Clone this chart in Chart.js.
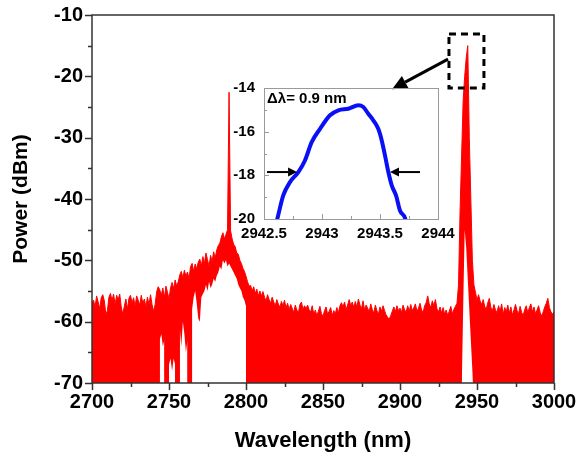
<!DOCTYPE html>
<html><head><meta charset="utf-8">
<script src="https://cdn.jsdelivr.net/npm/chart.js@4.4.0/dist/chart.umd.min.js"></script>
<style>
html,body{margin:0;padding:0;background:#fff;}
#wrap{position:relative;width:581px;height:457px;overflow:hidden;}
#main{position:absolute;left:0;top:0;}
#inset{position:absolute;left:200px;top:70px;}
</style></head><body>
<div id="wrap"><canvas id="main" width="581" height="457"></canvas><canvas id="inset" width="260" height="180"></canvas></div>
<script>
// ---------- main spectrum data ----------
const wavelengthStart = 2700, wavelengthEnd = 3000; // nm, 1 nm sampling
const spectrumPower = [
-57,-56.5,-57.6,-55.8,-56.8,-57.9,-56.1,-55.6,-56.6,-58.8,
-58.2,-56,-55.4,-56.6,-55.5,-57.2,-55.7,-56.4,-55.5,-57.6,
-58.8,-57.5,-56.3,-58,-56.2,-55.7,-56.9,-56.1,-57.5,-55.8,
-56.5,-57.3,-55.7,-57,-56.3,-57.6,-56,-57.2,-55.6,-57.2,
-58.3,-57.2,-55.1,-54.3,-54.8,-55.7,-54.5,-56.1,-54.2,-55.2,
-56.3,-54.5,-53.6,-54.6,-53.2,-54.2,-53.5,-52.4,-51.8,-52.9,
-51.6,-52.6,-51.9,-53,-51,-50.5,-51.8,-50.6,-51.4,-50.3,
-49.8,-50.9,-49.4,-50.5,-48.8,-49.9,-51,-49.2,-50.2,-48.6,
-49.6,-48.3,-47.6,-47.2,-46.2,-45.5,-46.5,-45.8,-45,-22.6,
-45.2,-46.5,-47.4,-47.8,-48.8,-49,-50,-50.5,-51.3,-51.8,
-52.6,-53.5,-54.2,-54.1,-55,-54.3,-55.4,-54.7,-55.8,-55,
-55.8,-55.1,-56,-56.6,-55.6,-56.4,-57,-56,-56.8,-57.4,
-56.4,-57.1,-57.7,-56.7,-57.4,-56.5,-57.8,-57,-58,-57.2,
-57.8,-58.5,-57.3,-58.1,-58.6,-57.2,-56.8,-58,-57.4,-57.9,
-57.3,-58.1,-58.4,-57.4,-58.8,-58.1,-59,-58.3,-57.5,-58.7,
-59.1,-58.2,-57.6,-58.8,-58.3,-57.7,-59,-58.2,-58.7,-57.7,
-58.6,-57.4,-56.9,-57.6,-56.8,-58,-57.3,-56.4,-57.4,-56.8,
-57.7,-56.7,-57.6,-56.3,-57.3,-57.9,-56.6,-58.1,-57.3,-57.8,
-58.4,-57.1,-58,-58.6,-57.3,-58.2,-58.8,-57.6,-58.3,-57.4,
-58.2,-58.9,-59.3,-59.6,-59,-58.3,-57.6,-58.4,-57.4,-58.2,
-57.8,-58.5,-57.3,-58.1,-58.4,-57.4,-58.3,-57.2,-58.2,-57.7,
-57.1,-58.3,-57.8,-57,-58.1,-58.5,-57.4,-56.9,-55.8,-57.1,
-57.7,-56.6,-57.4,-56.4,-57.9,-58.4,-57.6,-58.6,-57.7,-58.8,
-58.1,-59,-58.3,-57.5,-58.7,-58,-57.5,-57,-54,-42,
-33,-24,-20,-17,-15,-30,-40,-50,-54,-55.2,
-56.5,-55.6,-56.6,-57.2,-56.4,-57.5,-58,-56.9,-56.2,-57.7,
-58.2,-57.2,-58.1,-58.5,-57.4,-58.3,-57.1,-58.8,-57.7,-58.4,
-57.3,-58.6,-57.6,-58.9,-58.1,-57.2,-58.2,-58.7,-57.5,-58.5,
-59,-58,-57.4,-58.6,-57.7,-57.1,-58.4,-57.6,-58.7,-58.1,
-57.4,-58.5,-59.1,-58.4,-57.6,-57,-56.2,-57.7,-58.4,-58.8,
-58.4];
// lower edge of the trace where it does not reach the floor (white gaps); null = break
const gapWavelength = [2744,2745,2746,2747, 2748, 2750,2751,2752,2753,2754, 2756,
  2757,2758,2759,2760,2761,2762, 2763,
  2765,2766,2767,2768,2769,2770,2771,2772,2773,2774,2775,2776,2777,2778,2779,2780,2781,2782,
  2783,2784,2785,2786,2787,2788,2789,2790,2791,2792,2793,2794,2795,2796,2797,2798,2799,2800, 2801,
  2940,2941,2942,2943,2944,2945,2946,2947,2948];
const gapPower = [-63,-62,-64,-63, null, -67,-66,-68,-66,-67, null,
  -61,-64,-60,-62,-65,-63, null,
  -58,-56,-55,-57,-59.5,-60,-56,-55.5,-55,-54,-55,-53.5,-54.5,-54,-53,-53.5,-52.5,-52,
  -51,-51.5,-50,-50.5,-50,-51,-50.5,-51,-51.5,-52,-52.5,-53,-54,-54.5,-55,-56,-56.5,-57.5, null,
  -72,-58,-45,-48,-53,-58,-63,-68,-74];
const xTicks = [2700,2750,2800,2850,2900,2950,3000];
const yTicks = [-70,-60,-50,-40,-30,-20,-10];

// ---------- inset data ----------
const insetWavelength = [2942.6,2942.615,2942.666,2942.724,2942.796,2942.853,2942.911,2942.983,2943.069,2943.141,2943.227,2943.313,2943.356,2943.399,2943.442,2943.485,2943.515,2943.543,2943.572,2943.601,2943.638,2943.672,2943.716,2943.73];
const insetPower = [-20.3,-19.99,-18.92,-18.31,-17.85,-17.32,-16.48,-15.87,-15.25,-15.02,-14.95,-14.79,-14.87,-15.18,-15.48,-15.87,-16.40,-17.09,-17.85,-18.46,-18.92,-19.61,-19.96,-20.3];
const insetXTicks = [2942.5, 2943, 2943.5, 2944];
const insetYTicks = [-20, -18, -16, -14];
const fwhmLabel = 'Δλ= 0.9 nm';

const redData = spectrumPower.map((p,i)=>({x: wavelengthStart + i, y: p}));
const gapData = gapWavelength.map((w,i)=>({x: w, y: gapPower[i]}));
const blueData = insetWavelength.map((w,i)=>({x: w, y: insetPower[i]}));

const FONT = "'Liberation Sans', Arial, sans-serif";

function arrow(ctx, x1, y1, x2, y2, lw, hl, hw){
  const ang = Math.atan2(y2-y1, x2-x1);
  const bx = x2 - hl*Math.cos(ang), by = y2 - hl*Math.sin(ang);
  ctx.lineWidth = lw; ctx.beginPath(); ctx.moveTo(x1,y1); ctx.lineTo(bx,by); ctx.stroke();
  ctx.beginPath(); ctx.moveTo(x2,y2);
  ctx.lineTo(bx + hw*Math.sin(ang), by - hw*Math.cos(ang));
  ctx.lineTo(bx - hw*Math.sin(ang), by + hw*Math.cos(ang));
  ctx.closePath(); ctx.fill();
}
// scales must not reserve extra room for overhanging labels: the layout padding decides the plot box
function noOverhang(s){ s.paddingTop = 0; s.paddingBottom = 0; s.paddingLeft = 0; s.paddingRight = 0; }

const mainDecor = {
  id: 'mainDecor',
  afterDraw(chart){
    const {ctx, chartArea:a, scales:{x, y}} = chart;
    ctx.save();
    ctx.strokeStyle = '#333'; ctx.lineWidth = 1.5;
    ctx.strokeRect(a.left, a.top, a.right-a.left, a.bottom-a.top);
    ctx.beginPath();
    for (let v = 2700; v <= 3000; v += 25){
      const px = Math.round(x.getPixelForValue(v)) + 0.5, len = v % 50 === 0 ? 7 : 4;
      ctx.moveTo(px, a.bottom); ctx.lineTo(px, a.bottom + len);
    }
    for (let v = -70; v <= -10; v += 5){
      const py = Math.round(y.getPixelForValue(v)) + 0.5, len = v % 10 === 0 ? 7 : 4;
      ctx.moveTo(a.left, py); ctx.lineTo(a.left - len, py);
    }
    ctx.stroke();
    // dashed box around the peak
    ctx.strokeStyle = '#000'; ctx.lineWidth = 3; ctx.setLineDash([7,5]);
    const bx1 = x.getPixelForValue(2931.8), bx2 = x.getPixelForValue(2954.5);
    const by1 = y.getPixelForValue(-13.1), by2 = y.getPixelForValue(-21.9);
    ctx.strokeRect(bx1, by1, bx2-bx1, by2-by1);
    ctx.setLineDash([]);
    ctx.fillStyle = '#000';
    arrow(ctx, x.getPixelForValue(2931.2), y.getPixelForValue(-17.2), x.getPixelForValue(2894.8), y.getPixelForValue(-22.1), 3, 15, 7);
    ctx.restore();
  }
};

new Chart(document.getElementById('main'), {
  type: 'line',
  data: { datasets: [
    { data: gapData, borderWidth: 0, borderColor: 'rgba(0,0,0,0)', backgroundColor: '#ffffff', fill: 'start', pointRadius: 0, order: 1, spanGaps: false },
    { data: redData, borderColor: '#ff0000', borderWidth: 1, backgroundColor: '#ff0000', fill: 'start', pointRadius: 0, order: 2 }
  ]},
  options: {
    responsive: false, animation: false, devicePixelRatio: 1,
    layout: { padding: { left: 0, top: 15, right: 27, bottom: 0 } },
    plugins: { legend: { display: false }, tooltip: { enabled: false } },
    scales: {
      x: { type: 'linear', min: 2700, max: 3000,
        afterBuildTicks(s){ s.ticks = xTicks.map(v => ({value: v})); },
        ticks: { font: { family: FONT, size: 20, weight: 'bold' }, color: '#000', padding: 7, maxRotation: 0, autoSkip: false, callback: v => String(v) },
        grid: { display: false, drawTicks: false }, border: { display: false },
        title: { display: true, text: 'Wavelength (nm)', color: '#000', font: { family: FONT, size: 22, weight: 'bold' }, padding: { top: 0, bottom: 3 } },
        afterFit(s){ s.height = 74; noOverhang(s); } },
      y: { min: -70, max: -10,
        afterBuildTicks(s){ s.ticks = yTicks.map(v => ({value: v})); },
        ticks: { font: { family: FONT, size: 20, weight: 'bold' }, color: '#000', padding: 9, callback: v => String(v) },
        grid: { display: false, drawTicks: false }, border: { display: false },
        title: { display: true, text: 'Power (dBm)', color: '#000', font: { family: FONT, size: 21, weight: 'bold' }, padding: { top: 9, bottom: 0 } },
        afterFit(s){ s.width = 92; noOverhang(s); } }
    }
  },
  plugins: [mainDecor]
});

// ---------- inset ----------
const insetDecor = {
  id: 'insetDecor',
  afterDraw(chart){
    const {ctx, chartArea:a, scales:{x, y}} = chart;
    ctx.save();
    ctx.strokeStyle = '#9a9a9a'; ctx.lineWidth = 1;
    ctx.strokeRect(Math.round(a.left)+0.5, Math.round(a.top)+0.5, Math.round(a.right-a.left), Math.round(a.bottom-a.top));
    ctx.beginPath();
    for (let v = 2942.5; v <= 2944.001; v += 0.25){
      const px = Math.round(x.getPixelForValue(v)) + 0.5, len = Math.abs(v*2 - Math.round(v*2)) < 1e-6 ? 5 : 3;
      ctx.moveTo(px, a.bottom); ctx.lineTo(px, a.bottom - len);
    }
    for (let v = -20; v <= -14; v += 1){
      const py = Math.round(y.getPixelForValue(v)) + 0.5, len = v % 2 === 0 ? 5 : 3;
      ctx.moveTo(a.left, py); ctx.lineTo(a.left + len, py);
    }
    ctx.stroke();
    ctx.fillStyle = '#000'; ctx.strokeStyle = '#000';
    const ay = y.getPixelForValue(-17.85);
    arrow(ctx, x.getPixelForValue(2942.526), ay, x.getPixelForValue(2942.785), ay, 2, 9, 4.5);
    arrow(ctx, x.getPixelForValue(2943.845), ay, x.getPixelForValue(2943.586), ay, 2, 9, 4.5);
    ctx.font = "bold 15px " + FONT; ctx.textBaseline = 'middle'; ctx.textAlign = 'left';
    ctx.fillText(fwhmLabel, x.getPixelForValue(2942.526), y.getPixelForValue(-14.52));
    ctx.restore();
  }
};
new Chart(document.getElementById('inset'), {
  type: 'line',
  data: { datasets: [
    { data: blueData, borderColor: '#0a10f5', borderWidth: 4, pointRadius: 0, cubicInterpolationMode: 'monotone', fill: false, clip: 0 }
  ]},
  options: {
    responsive: false, animation: false, devicePixelRatio: 1,
    layout: { padding: { left: 0, top: 18, right: 22, bottom: 0 } },
    plugins: { legend: { display: false }, tooltip: { enabled: false } },
    scales: {
      x: { type: 'linear', min: 2942.5, max: 2944,
        afterBuildTicks(s){ s.ticks = insetXTicks.map(v => ({value: v})); },
        ticks: { font: { family: FONT, size: 15, weight: 'bold' }, color: '#000', padding: 6, maxRotation: 0, autoSkip: false, callback: v => String(v) },
        grid: { display: false, drawTicks: false }, border: { display: false },
        afterFit(s){ s.height = 31; noOverhang(s); } },
      y: { min: -20, max: -14,
        afterBuildTicks(s){ s.ticks = insetYTicks.map(v => ({value: v})); },
        ticks: { font: { family: FONT, size: 15, weight: 'bold' }, color: '#000', padding: 9, callback: v => String(v) },
        grid: { display: false, drawTicks: false }, border: { display: false },
        afterFit(s){ s.width = 64; noOverhang(s); } }
    }
  },
  plugins: [insetDecor]
});
</script>
</body></html>
